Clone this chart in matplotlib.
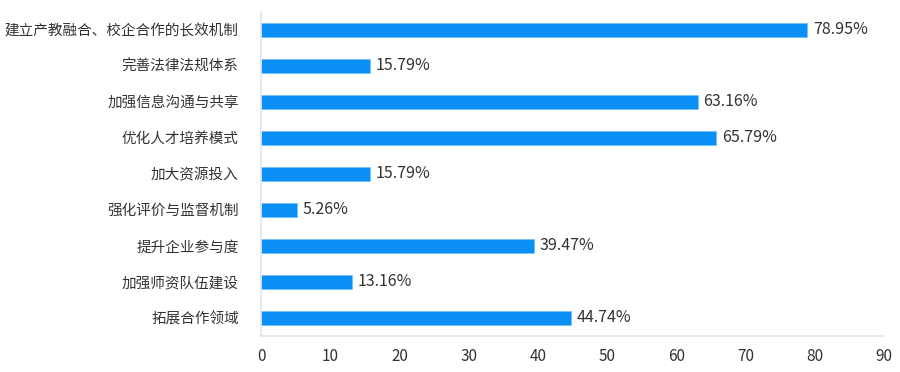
import matplotlib
matplotlib.use("Agg")
import matplotlib.pyplot as plt

plt.rcParams["font.family"] = ["Noto Sans CJK SC", "DejaVu Sans"]

categories = ["建立产教融合、校企合作的长效机制", "完善法律法规体系", "加强信息沟通与共享",
              "优化人才培养模式", "加大资源投入", "强化评价与监督机制",
              "提升企业参与度", "加强师资队伍建设", "拓展合作领域"]
values = [78.95, 15.79, 63.16, 65.79, 15.79, 5.26, 39.47, 13.16, 44.74]
xticks = [0, 10, 20, 30, 40, 50, 60, 70, 80, 90]

BAR = "#0a8ff5"
INK = "#333333"
AXIS = "#dfe4ee"

fig = plt.figure(figsize=(9.0, 3.72), dpi=100)
ax = fig.add_axes([0.290, 0.097, 0.692, 0.872])

ypos = list(range(len(categories)))
ax.barh(ypos, values, height=0.39, color=BAR, edgecolor="#6cc0ff", linewidth=0.5, zorder=2)
for y, v in zip(ypos, values):
    ax.text(v + 0.8, y, f"{v:.2f}%", va="center", ha="left", fontsize=11.5, color=INK)

ax.set_ylim(len(categories) - 0.5, -0.5)
ax.set_xlim(0, 90)
ax.set_yticks(ypos)
ax.set_yticklabels(categories, fontsize=10.5, color=INK)
ax.set_xticks(xticks)
ax.set_xticklabels([str(t) for t in xticks], fontsize=11, color=INK)
ax.tick_params(length=0, pad=9)
ax.tick_params(axis="y", pad=16)
for s in ["top", "right"]:
    ax.spines[s].set_visible(False)
for s in ["left", "bottom"]:
    ax.spines[s].set_color(AXIS)
    ax.spines[s].set_linewidth(1.2)

fig.savefig("out.png", dpi=100)
